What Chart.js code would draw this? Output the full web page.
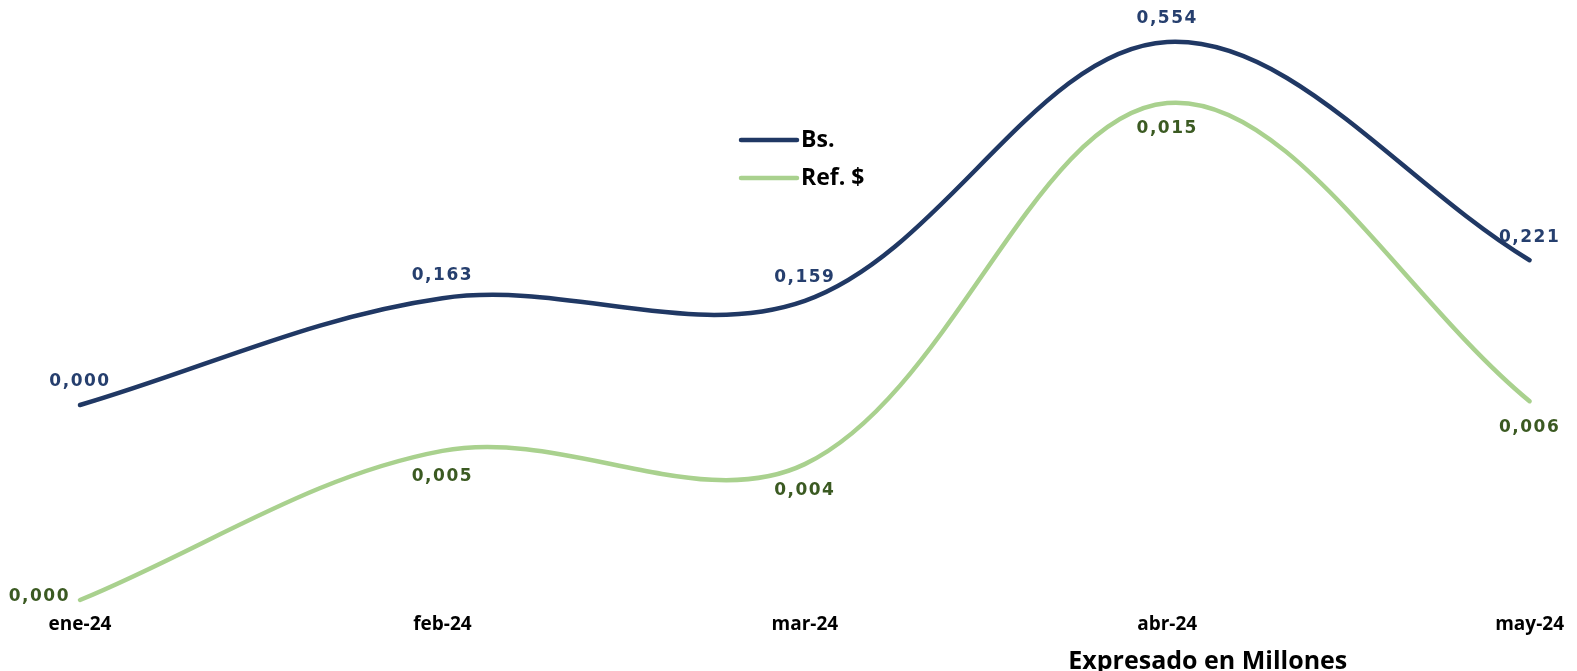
<!DOCTYPE html>
<html>
<head>
<meta charset="utf-8">
<script src="https://cdn.jsdelivr.net/npm/chart.js@4.4.1/dist/chart.umd.min.js"></script>
<style>
  html, body { margin: 0; padding: 0; background: #ffffff; }
  #wrap { position: relative; width: 1577px; height: 671px; }
</style>
</head>
<body>
<div id="wrap"><canvas id="c"></canvas></div>
<script>
// ---- data ----
const categories = ['ene-24', 'feb-24', 'mar-24', 'abr-24', 'may-24'];
const bsValues = [0, 0.163, 0.159, 0.554, 0.221];
const refValues = [0, 0.0045, 0.0041, 0.015, 0.006];
const seriesNames = ['Bs.', 'Ref. $'];
const axisNote = 'Expresado en Millones';

const BS_LINE = '#203864';
const REF_LINE = '#A9D18E';
const BS_LABEL = '#263F6E';
const REF_LABEL = '#3B5A22';

function fmt(v) {
  return (Math.round(v * 1000 + 1e-9) / 1000).toFixed(3).replace('.', ',');
}

const labelsPlugin = {
  id: 'pointLabels',
  afterDatasetsDraw(chart) {
    const ctx = chart.ctx;
    ctx.save();
    ctx.font = 'bold 17px "DejaVu Sans"';
    if ('letterSpacing' in ctx) ctx.letterSpacing = '1.5px';
    chart.data.datasets.forEach((ds, di) => {
      const meta = chart.getDatasetMeta(di);
      meta.data.forEach((pt, i) => {
        const txt = fmt(ds.data[i]);
        ctx.fillStyle = di === 0 ? BS_LABEL : REF_LABEL;
        ctx.textBaseline = 'middle';
        if (di === 0) {
          ctx.textAlign = 'center';
          ctx.fillText(txt, pt.x, pt.y - 23);
        } else if (i === 0) {
          ctx.textAlign = 'right';
          ctx.fillText(txt, pt.x - 10, pt.y - 3);
        } else {
          ctx.textAlign = 'center';
          ctx.fillText(txt, pt.x, pt.y + 26);
        }
      });
    });
    if ('letterSpacing' in ctx) ctx.letterSpacing = '0px';
    ctx.restore();
  }
};

const legendPlugin = {
  id: 'innerLegend',
  afterDraw(chart) {
    const ctx = chart.ctx;
    const a = chart.chartArea;
    const x0 = a.left + 661;
    const rows = [a.top + 120, a.top + 158];
    ctx.save();
    chart.data.datasets.forEach((ds, di) => {
      const y = rows[di];
      ctx.strokeStyle = ds.borderColor;
      ctx.lineWidth = 4.5;
      ctx.lineCap = 'round';
      ctx.beginPath();
      ctx.moveTo(x0, y);
      ctx.lineTo(x0 + 56, y);
      ctx.stroke();
      ctx.fillStyle = '#000000';
      ctx.font = 'bold 23px "Open Sans"';
      ctx.textAlign = 'left';
      ctx.textBaseline = 'middle';
      ctx.fillText(ds.label, x0 + 60, y);
    });
    ctx.font = 'bold 25px "Open Sans"';
    ctx.textAlign = 'center';
    ctx.textBaseline = 'middle';
    ctx.fillStyle = '#000000';
    ctx.fillText(axisNote, a.left + 0.778 * (a.right - a.left), 662);
    ctx.restore();
  }
};

new Chart(document.getElementById('c'), {
  type: 'line',
  data: {
    labels: categories,
    datasets: [
      {
        label: seriesNames[0],
        data: bsValues,
        yAxisID: 'yBs',
        borderColor: BS_LINE,
        borderWidth: 4.5,
        pointRadius: 0,
        tension: 0.35,
        borderCapStyle: 'round',
        fill: false,
        clip: false
      },
      {
        label: seriesNames[1],
        data: refValues,
        yAxisID: 'yRef',
        borderColor: REF_LINE,
        borderWidth: 4.5,
        pointRadius: 0,
        tension: 0.35,
        borderCapStyle: 'round',
        fill: false,
        clip: false
      }
    ]
  },
  options: {
    responsive: true,
    maintainAspectRatio: false,
    animation: false,
    layout: { padding: { left: 80, right: 44, top: 20, bottom: 0 } },
    plugins: {
      legend: { display: false },
      tooltip: { enabled: false },
      title: { display: false }
    },
    scales: {
      x: {
        type: 'category',
        offset: false,
        grid: { display: false, drawTicks: false },
        border: { display: false },
        ticks: {
          color: '#000000',
          font: { family: 'Open Sans', weight: 'bold', size: 19 },
          padding: 13,
          maxRotation: 0,
          autoSkip: false
        },
        afterFit(scale) { scale.height = 71; }
      },
      yBs: {
        display: false,
        position: 'left',
        min: -0.29762,
        max: 0.58761
      },
      yRef: {
        display: false,
        position: 'right',
        min: 0,
        max: 0.017505
      }
    }
  },
  plugins: [labelsPlugin, legendPlugin]
});
</script>
</body>
</html>
